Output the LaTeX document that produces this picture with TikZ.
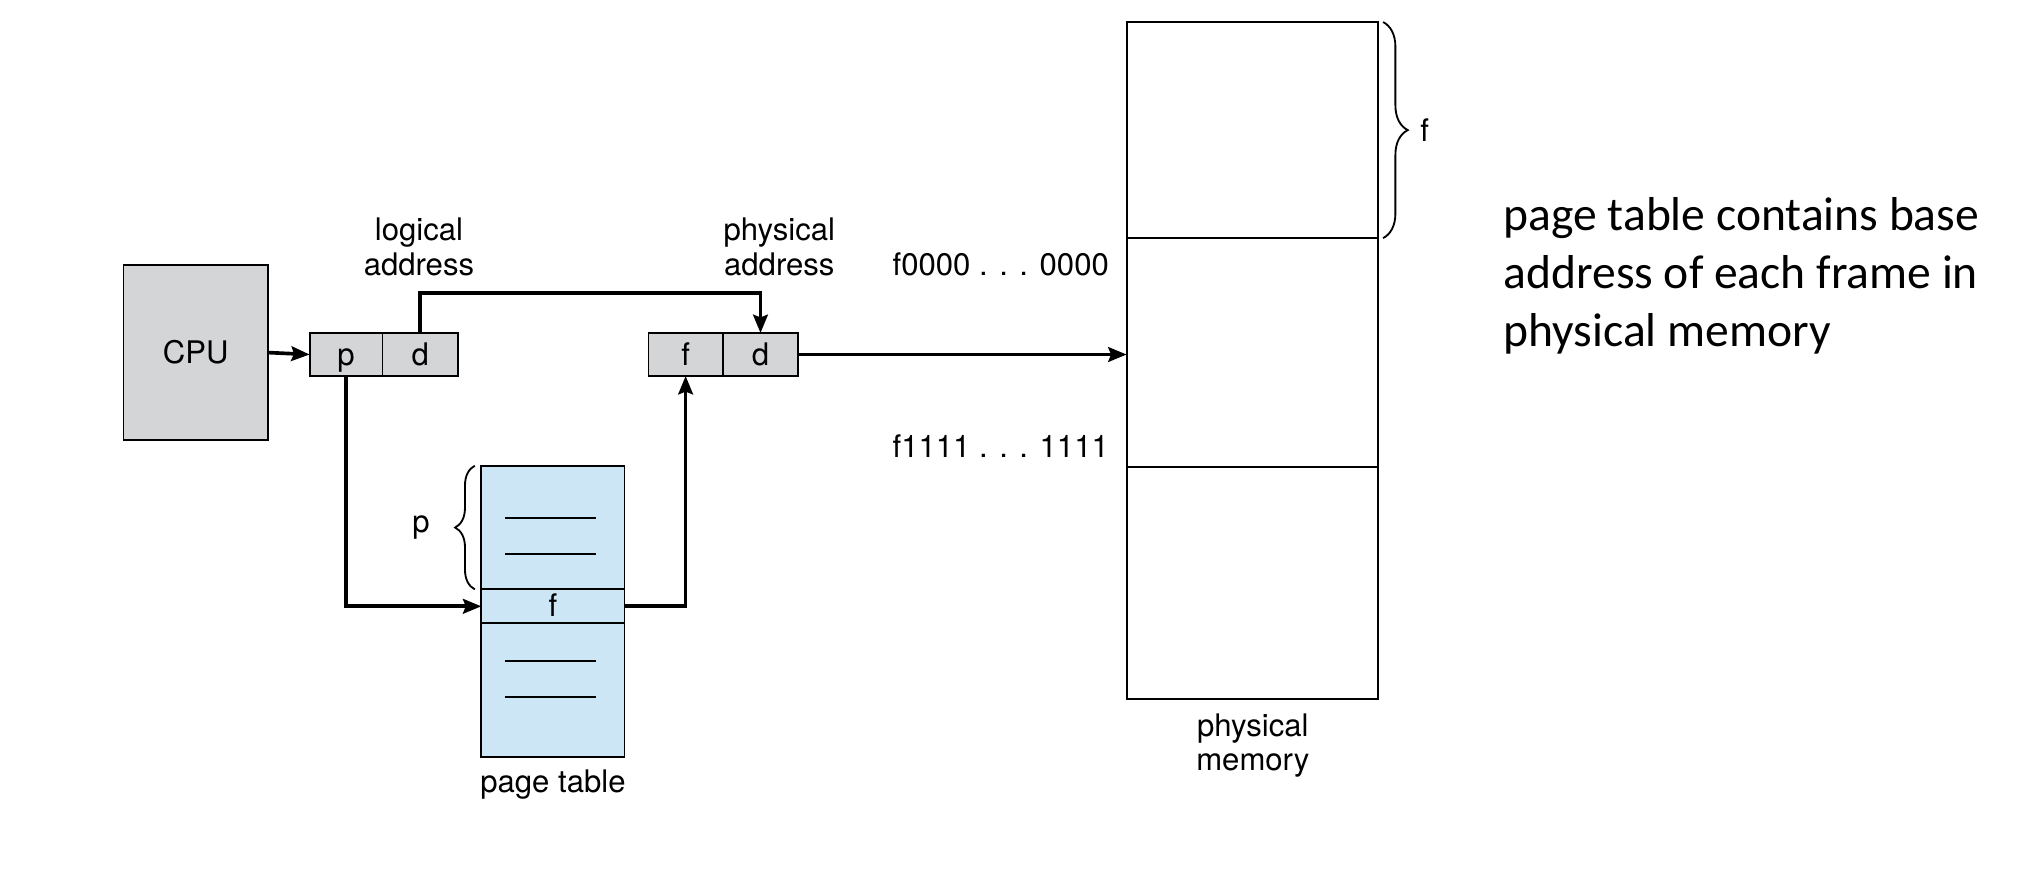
\documentclass[tikz,border=0pt]{standalone}
\usepackage{fontspec}
\setmainfont{TeX Gyre Heros}
\newfontfamily\calibri{Carlito}
\usepackage{tikz}
\usetikzlibrary{arrows.meta,positioning,decorations.pathreplacing}
\definecolor{boxgray}{RGB}{212,213,215}
\definecolor{tblblue}{RGB}{205,230,246}
\newcommand{\lblfont}{\fontsize{6.8}{7.6}\selectfont}

\begin{document}
\begin{tikzpicture}[x=0.01cm, y=-0.01cm,
    lbl/.style={font=\lblfont, align=center, inner sep=0pt},
    cell/.style={draw, fill=boxgray, line width=0.4pt, minimum height=0.33cm,
        inner sep=0pt, outer sep=0pt, font=\lblfont, text height=6pt, text depth=1.4pt},
    tblrow/.style={draw, fill=tblblue, line width=0.4pt, minimum width=1.10cm,
        inner sep=0pt, outer sep=0pt, font=\lblfont, text height=6pt, text depth=1.4pt},
    memframe/.style={draw, line width=0.4pt, minimum width=1.93cm,
        inner sep=0pt, outer sep=0pt},
    arr/.style={line width=0.8pt, -{Stealth[length=4pt, width=3.2pt, inset=0.6pt]}},
    brc/.style={decorate, line width=0.4pt, decoration={brace, amplitude=4.3pt}}]
    \useasboundingbox (0,0) rectangle (1568,673);

    % CPU
    \node[cell, minimum width=1.11cm, minimum height=1.34cm] (cpu) at (150.5,271) {CPU};

    % Logical address
    \node[cell, minimum width=0.56cm] (lap) at (266,272.5) {p};
    \node[cell, minimum width=0.58cm, right=0pt of lap] (lad) {d};
    \node[lbl] (lalbl) at (322,190) {logical\\address};

    % Physical address
    \node[cell, minimum width=0.57cm] (paf) at (527,272.5) {f};
    \node[cell, minimum width=0.58cm, right=0pt of paf] (pad) {d};
    \node[lbl] (palbl) at (599,190) {physical\\address};

    % Page table
    \node[tblrow, minimum height=0.95cm] (ptop) at (425,405.5) {};
    \node[tblrow, minimum height=0.24cm, below=0pt of ptop] (pte) {f};
    \node[tblrow, minimum height=1.03cm, below=0pt of pte] (pbot) {};
    \foreach \y in {398,426,508,536}
        \draw[line width=0.4pt] (388,\y) -- (458,\y);
    \node[lbl] (ptlbl) at (425,603) {page table};
    \draw[brc] ([xshift=-0.05cm]ptop.south west) -- ([xshift=-0.05cm]ptop.north west)
        node[lbl, midway, left=0.34cm] (pbrc) {p};

    % Physical memory
    \node[memframe, minimum height=1.66cm] (mem0) at (962.5,100) {};
    \node[memframe, minimum height=1.76cm, below=0pt of mem0] (mem1) {};
    \node[memframe, minimum height=1.78cm, below=0pt of mem1] (mem2) {};
    \node[lbl] (pmlbl) at (963,573) {physical\\memory};
    \draw[brc, decoration={amplitude=5.4pt}] ([xshift=0.04cm]mem0.north east) -- ([xshift=0.04cm]mem0.south east)
        node[lbl, midway, right=0.28cm] (fbrc) {f};
    \node[lbl, anchor=east] (f0lbl) at (853,203) {f0000 . . . 0000};
    \node[lbl, anchor=east] (f1lbl) at (853,343) {f1111 . . . 1111};

    % Connectors
    \draw[arr] (cpu.east) -- (lap.west);
    \draw[arr] (lad.north) -- ++(0,-31) -| (pad.north);
    \draw[arr] (lap.south) |- (pte.west);
    \draw[arr] (pte.east) -| (paf.south);
    \draw[arr] (pad.east) -- (pad.east -| mem1.west);

    % Note
    \node[anchor=west, align=left, inner sep=0pt, font=\calibri\fontsize{10.4}{12.6}\selectfont]
        (note) at (1155,212) {page table contains base\\address of each frame in\\physical memory};
\end{tikzpicture}
\end{document}
